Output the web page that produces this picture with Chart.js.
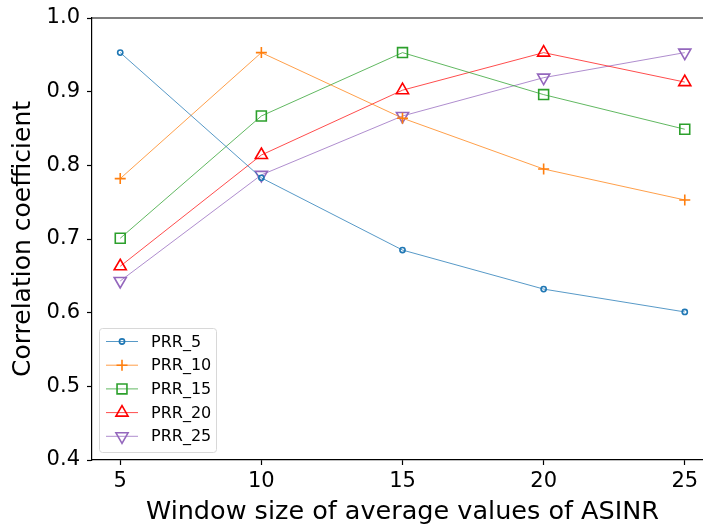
<!DOCTYPE html>
<html>
<head>
<meta charset="utf-8">
<script src="https://cdn.jsdelivr.net/npm/chart.js@4.4.1/dist/chart.umd.min.js"></script>
<style>
  html, body { margin: 0; padding: 0; background: #fff; overflow: hidden; }
  #wrap { width: 703px; height: 525px; overflow: hidden; }
</style>
</head>
<body>
<div id="wrap"><canvas id="c" width="714" height="525"></canvas></div>
<script>
const windowSizes = [5, 10, 15, 20, 25];
const yTicks = [0.4, 0.5, 0.6, 0.7, 0.8, 0.9, 1.0];
const prr5  = [0.953, 0.783, 0.685, 0.632, 0.601];
const prr10 = [0.782, 0.953, 0.864, 0.795, 0.753];
const prr15 = [0.701, 0.867, 0.953, 0.896, 0.849];
const prr20 = [0.663, 0.814, 0.902, 0.953, 0.913];
const prr25 = [0.643, 0.787, 0.867, 0.919, 0.953];

const FONT = 'DejaVu Sans';

function series(label, values, color, lineColor, style, radius, rotation) {
  return {
    label,
    data: windowSizes.map((x, i) => ({ x, y: values[i] })),
    borderColor: lineColor,
    borderWidth: 1,
    pointStyle: style,
    pointRadius: radius,
    pointHoverRadius: radius,
    pointRotation: rotation || 0,
    pointBorderColor: color,
    pointBackgroundColor: 'rgba(0,0,0,0)',
    pointBorderWidth: 1.6,
    fill: false,
    tension: 0
  };
}

// top/right spines + matplotlib-like legend box
const extras = {
  id: 'extras',
  afterDraw(chart) {
    const ctx = chart.ctx, a = chart.chartArea;
    ctx.save();
    ctx.strokeStyle = '#000';
    ctx.lineWidth = 1.2;
    ctx.beginPath();
    ctx.moveTo(a.left, a.top);
    ctx.lineTo(a.right, a.top);
    ctx.lineTo(a.right, a.bottom);
    ctx.stroke();

    // legend
    const x0 = 99.5, y0 = 328.5, w = 117, h = 124;
    ctx.fillStyle = 'rgba(255,255,255,0.8)';
    ctx.strokeStyle = '#d8d8d8';
    ctx.lineWidth = 1;
    ctx.beginPath();
    ctx.roundRect(x0, y0, w, h, 3);
    ctx.fill();
    ctx.stroke();
    ctx.font = '16px ' + FONT;
    ctx.textBaseline = 'middle';
    chart.data.datasets.forEach((ds, i) => {
      const y = 341.5 + i * 23.7;
      ctx.strokeStyle = ds.borderColor;
      ctx.lineWidth = 1;
      ctx.beginPath();
      ctx.moveTo(106, y);
      ctx.lineTo(138, y);
      ctx.stroke();
      ctx.strokeStyle = ds.pointBorderColor;
      ctx.fillStyle = 'rgba(0,0,0,0)';
      ctx.lineWidth = ds.pointBorderWidth;
      Chart.helpers.drawPoint(ctx, {
        pointStyle: ds.pointStyle, radius: ds.pointRadius,
        rotation: ds.pointRotation, borderWidth: ds.pointBorderWidth
      }, 122, y);
      ctx.fillStyle = '#000';
      ctx.fillText(ds.label, 151, y + 1);
    });
    ctx.restore();
  }
};

new Chart(document.getElementById('c'), {
  type: 'line',
  data: {
    datasets: [
      series('PRR_5',  prr5,  '#1f77b4', 'rgba(31,119,180,0.75)', 'circle', 2.6),
      series('PRR_10', prr10, '#ff7f0e', 'rgba(255,127,14,0.75)', 'cross', 5.5),
      series('PRR_15', prr15, '#2ca02c', 'rgba(44,160,44,0.75)', 'rect', 7),
      series('PRR_20', prr20, '#ff0000', 'rgba(255,0,0,0.7)', 'triangle', 7),
      series('PRR_25', prr25, '#9467bd', 'rgba(148,103,189,0.75)', 'triangle', 7, 180)
    ]
  },
  options: {
    responsive: false,
    animation: false,
    layout: { autoPadding: false, padding: { top: 18, right: 1, bottom: 0, left: 0 } },
    plugins: { legend: { display: false }, tooltip: { enabled: false } },
    scales: {
      x: {
        type: 'linear',
        min: 4,
        max: 26,
        afterBuildTicks: s => { s.ticks = windowSizes.map(v => ({ value: v })); },
        afterFit: s => { s.height = 65; s.paddingLeft = 0; s.paddingRight = 0; },
        grid: { display: true, drawOnChartArea: false, drawTicks: true, tickLength: 5, tickWidth: 1.2, tickColor: '#000' },
        border: { display: true, color: '#000', width: 1.2 },
        ticks: { color: '#000', font: { family: FONT, size: 21 }, padding: 4, maxRotation: 0, autoSkip: false },
        title: { display: true, text: 'Window size of average values of ASINR', color: '#000', font: { family: FONT, size: 25.5, lineHeight: 1.0 }, padding: { top: 0, bottom: 0 } }
      },
      y: {
        min: 0.4,
        max: 1.0,
        afterBuildTicks: s => { s.ticks = yTicks.map(v => ({ value: v })); },
        afterFit: s => { s.width = 92; s.paddingTop = 0; s.paddingBottom = 0; },
        grid: { display: true, drawOnChartArea: false, drawTicks: true, tickLength: 5, tickWidth: 1.2, tickColor: '#000' },
        border: { display: true, color: '#000', width: 1.2 },
        ticks: { color: '#000', font: { family: FONT, size: 21 }, padding: 7, callback: v => v.toFixed(1), autoSkip: false },
        title: { display: true, text: 'Correlation coefficient', color: '#000', font: { family: FONT, size: 25 }, padding: { top: 8, bottom: 0 } }
      }
    }
  },
  plugins: [extras]
});
</script>
</body>
</html>
